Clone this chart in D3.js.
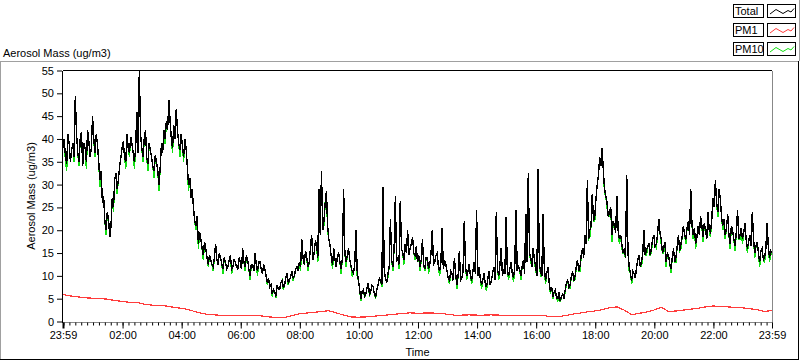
<!DOCTYPE html>
<html>
<head>
<meta charset="utf-8">
<script src="https://cdn.jsdelivr.net/npm/d3@7"></script>
<style>
  html, body { margin: 0; padding: 0; background: #fff; }
  svg { display: block; font-family: "Liberation Sans", Arial, sans-serif; }
</style>
</head>
<body>
<svg id="chart" width="800" height="361"></svg>
<script>
// ---------------- DATA ----------------
const seriesNames = ["Total", "PM1", "PM10"];
const seriesColors = ["#000000", "#ff3c3c", "#12e012"];
const yTicks = [0, 5, 10, 15, 20, 25, 30, 35, 40, 45, 50, 55];
const xTickLabels = ["23:59", "02:00", "04:00", "06:00", "08:00", "10:00", "12:00",
                     "14:00", "16:00", "18:00", "20:00", "22:00", "23:59"];
const yTitle = "Aerosol Mass (ug/m3)";
const xTitle = "Time";
const chartTitle = "Aerosol Mass (ug/m3)";

// Total: one sample every 2.5 minutes from 23:59 (24 per row = 1 hour)
const total = [
  38,40,36,34.5,41,39,35,37.5,39,36,49.5,41,37,35,40,41.5,34,39,38,35,42,39.5,36,38,
  45,40,37,41,39,35,31,33,26,27.5,22,20,24,22.5,18.5,21,27,25,31,32.5,29,31,34,36,
  38,39.5,36,35,41,38,37,40.5,39,37,35,38,46,37,55,41,38,36,40,42,36,34.5,39,37.5,
  36,34,33,36.5,35,33,30,34,39,37,42,40,44,42,48.5,44,40,38,43,40,46.5,42,39,37.5,
  41,38.5,36,40,38,34,30,31.5,27,29,25,22,21,23,17,19.5,18,16,14.5,17.5,16,14,12.5,14.5,
  13.5,12.5,12,14,17,13.5,12.5,15,14,12.5,11.5,14,13,11.5,12,13.5,14.5,11.5,12,13.5,13,12,11.5,14,
  13,11.5,16,13,12,14.5,13.5,11.5,10,12.5,12.5,11,15,12.5,11,13,13,11.5,10.5,12.5,11.5,10,8.5,9.5,
  7.5,8,6,7,6.5,5.5,8,7,7,8.5,9,7.5,8,9.5,10.5,8.5,9,10,11,9.5,10,11.5,12,11,
  13,12,18,14,12.5,15.5,14,12,13,16,19,13.5,15,17.5,17,14,29,19,33,20,22,26,28.5,21,
  18,16.5,14,12.5,16,13.5,12,14.5,15,13,11.5,14,29,15,13,14.5,16,13.5,12,11,10.5,12.5,20,11,
  9,7,5,6.5,7,5.5,6,7.5,8.5,6,6.5,8,7.5,6,5.5,7,8,9.5,9,8,29.5,11,9.5,8.5,
  10.5,12,22.5,13.5,12,16,27.5,13,14,12.5,26.5,16,15,13.5,17,15,20,14.5,16,17,18.5,15,14.5,16.5,
  13,14.5,12,13.5,18,12.5,11.5,14,14,11.5,12.5,15,20,12.5,13,14.5,15,12,11,13,20.5,11.5,13.5,12.5,
  11,9.5,9,11,10.5,9,14,10.5,8,10,15.5,9,9.5,11,22,12,10,11,12.5,10,9,11,13,10.5,
  24.5,10,12,9.5,8,9,10.5,8.5,7.5,9,11,8,9,10.5,12,9,24,11.5,10,12.5,16,10,11.5,10.5,
  23,11,10,11.5,13,10.5,9.5,12,24.5,11,12,11.5,10,12,13.5,10.5,23.5,13,32.5,15,14,12,16,13.5,
  12,10,33.5,12.5,11,10,23.5,12,9,10.5,12,8.5,6.5,7.5,5.5,6.5,7,5,5,6.5,4.5,5.5,6,5,
  7,8.5,9,7.5,8,10,11,9,10,12,13.5,11,12,14.5,16,14,19,17,31,18,20,21,28,22,
  23,27,30,32,36,34,38,33,29,27.5,26,23,24,25,19,22,21,19.5,27.5,20,18,19,17,15,
  16,14,32,15,12,10.5,9,11,10.5,9.5,12,13.5,14.5,12,13,15,20,14.5,15.5,16.5,17,14.5,16,18,
  19,16.5,17,19,22.5,19.5,18,15,16,17.5,13,15,14.5,12.5,11.5,14,16,13,14,16.5,19,15.5,17,18.5,
  21,19,18,20.5,22,19,29,21,19,20.5,17,18.5,21,19,23,21,18.5,21.5,20,18,24,20,19.5,22,
  27,25,31,26,24,29,27,23,21,22.5,19,20.5,23.5,19,17,21,20,18,16.5,19.5,24.5,18,19,20.5,
  18,19.5,21.5,18,16,17.5,19,16.5,24,18,15,16.5,17.5,15,13,15.5,16,13.5,14,16,21.5,16.5,14,15.5,15
];

// PM10: one sample every 2.5 minutes from 23:59
const pm10 = [
  38,40,35,33,41,39,35,37.5,39,35,49.5,41,37,34,40,41.5,34,39,38,33.5,42,39.5,36,38,
  45,40,36,41,39,35,29.5,33,26,27.5,22,19,24,22.5,18.5,21,27,24,31,32.5,28,31,34,36,
  38,39.5,36,33.5,41,38,36,40.5,39,37,33.5,38,46,37,55,41,38,35,40,42,36,33,39,37.5,
  36,34,31.5,36.5,35,33,28.5,34,39,37,42,39,44,42,48.5,44,40,37,43,40,46.5,42,39,36,
  41,38.5,35,40,38,34,28.5,31.5,27,29,25,22,20,23,16,19.5,18,16,13.5,17.5,16,14,12,14.5,
  13.5,12.5,11,14,17,13.5,12.5,15,14,12.5,10.5,14,13,11.5,12,13.5,14.5,10.5,12,13.5,13,12,11.5,14,
  13,11.5,16,13,11,14.5,13.5,11.5,9,12.5,12.5,11,15,12.5,10,13,13,11.5,10.5,12.5,11.5,10,8,9.5,
  7.5,8,5.5,7,6.5,5.2,8,7,7,8.5,9,7,8,9.5,10.5,8,9,10,11,9,10,11.5,12,11,
  13,11,18,14,12.5,15.5,14,11,13,16,19,13.5,15,17.5,17,13,29,19,33,20,21,26,28.5,20,
  18,16.5,14,11.5,16,13.5,12,14.5,15,13,10.5,14,29,15,12,14.5,16,13.5,12,10,10.5,12.5,20,10,
  9,7,4.6,6.5,7,5.2,6,7.5,8.5,5.5,6.5,8,7.5,6,5,7,8,9.5,9,7.5,29.5,11,9.5,8.5,
  9.8,12,22.5,13.5,11,16,27.5,13,14,11.5,26.5,16,15,12.5,17,15,20,14.5,16,17,18.5,15,13.5,16.5,
  13,14.5,11,13.5,18,12.5,11,14,14,10.5,12.5,15,20,12.5,13,14.5,15,12,10,13,20.5,11.5,13.5,12.5,
  11,9.5,8.2,11,10.5,9,14,10.5,7.2,10,15.5,9,9.5,11,22,12,9.2,11,12.5,10,8.2,11,13,10.5,
  24.5,10,12,9.5,7.2,9,10.5,8.5,6.7,9,11,8,9,10.5,12,9,24,11.5,9.2,12.5,16,10,11.5,10.5,
  23,11,9.2,11.5,13,10.5,8.6,12,24.5,11,12,11.5,9.2,12,13.5,10.5,23.5,13,32.5,15,13,12,16,13.5,
  11,10,33.5,12.5,10,10,23.5,12,8.2,10.5,12,8.5,6,7.5,5,6.5,7,5,4.5,6.5,4.2,5.5,6,5,
  6.4,8.5,9,7.5,7.3,10,11,9,9.2,12,13.5,11,11,14.5,16,14,19,17,31,18,18.5,21,28,22,
  22,27,30,32,36,34,38,33,28,27.5,25,23,23,25,17.5,22,21,19.5,27.5,20,17,19,16,15,
  15,14,32,15,11,10.5,8.2,11,10.5,9.5,12,13.5,14.5,12,12,15,20,14.5,14.5,16.5,17,14.5,15,18,
  19,16.5,16,19,22.5,19.5,17,15,15,17.5,12,15,14.5,12.5,10.7,14,16,13,13,16.5,19,15.5,16,18.5,
  21,19,17,20.5,22,19,29,21,18,20.5,16,18.5,21,19,23,21,17.5,21.5,20,18,24,20,18.5,22,
  27,25,31,26,23,29,27,23,20,22.5,18,20.5,23.5,19,16,21,20,18,15.5,19.5,24.5,18,18,20.5,
  17,19.5,21.5,18,15,17.5,19,16.5,24,18,14,16.5,17.5,15,12,15.5,16,13.5,13,16,21.5,16.5,13,15.5,14.5
];

// PM1: one sample every 15 minutes from 23:59
const pm1 = [
  5.9,5.6,5.4,5.2,5.1,5.0,4.9,4.6,4.4,4.2,4.2,3.8,
  3.6,3.5,3.4,3.1,2.9,2.6,2.1,1.7,1.5,1.4,1.35,1.3,
  1.35,1.4,1.4,1.2,1.0,0.85,0.9,1.3,1.7,1.85,2.0,2.2,
  2.35,1.9,1.4,1.0,0.95,1.0,1.15,1.3,1.45,1.6,1.75,1.9,
  1.8,1.85,1.85,1.8,1.6,1.4,1.4,1.45,1.4,1.4,1.45,1.4,
  1.35,1.4,1.4,1.35,1.3,1.3,1.1,1.05,1.3,1.6,1.85,2.1,
  2.3,2.6,3.0,3.2,2.5,1.5,1.8,2.05,2.5,3.1,2.2,2.3,
  2.5,2.7,2.9,3.2,3.4,3.3,3.2,3.1,3.0,2.8,2.6,2.2,
  2.4
];

// ---------------- CHART ----------------
const svg = d3.select("#chart");
const W = 800, H = 361;
const plot = { left: 63, right: 772, top: 70.5, bottom: 321.5 };
const FONT = "11px";

svg.append("rect").attr("width", W).attr("height", H).attr("fill", "#fff");

const t0 = new Date(2000, 0, 1, 23, 59);
const t1 = new Date(2000, 0, 2, 23, 59);
const x = d3.scaleTime().domain([t0, t1]).range([plot.left, plot.right]);
const y = d3.scaleLinear().domain([0, 55]).range([plot.bottom, plot.top]);

const timeAt = (i, stepSec) => d3.timeSecond.offset(t0, i * stepSec);

// outer panel frame
const frame = svg.append("g").attr("shape-rendering", "crispEdges");
frame.append("line").attr("x1", 0).attr("x2", 799).attr("y1", 61.5).attr("y2", 61.5).attr("stroke", "#a0a0a0");
frame.append("line").attr("x1", 0.5).attr("x2", 0.5).attr("y1", 61).attr("y2", 360).attr("stroke", "#a0a0a0");
frame.append("line").attr("x1", 0).attr("x2", 799).attr("y1", 359.5).attr("y2", 359.5).attr("stroke", "#000");
frame.append("line").attr("x1", 798.5).attr("x2", 798.5).attr("y1", 61).attr("y2", 360).attr("stroke", "#000");
frame.append("line").attr("x1", 799.5).attr("x2", 799.5).attr("y1", 0).attr("y2", 61).attr("stroke", "#a0a0a0");

// chart title
svg.append("text").attr("x", 3).attr("y", 56.5).attr("font-size", FONT).attr("fill", "#000").text(chartTitle);

// clip
svg.append("defs").append("clipPath").attr("id", "clip")
  .append("rect").attr("x", plot.left).attr("y", plot.top - 1)
  .attr("width", plot.right - plot.left).attr("height", plot.bottom - plot.top + 1);

const line = (stepSec) => d3.line()
  .x((d, i) => x(timeAt(i, stepSec)))
  .y(d => y(d));

const lines = svg.append("g").attr("clip-path", "url(#clip)");
lines.append("path").datum(pm10).attr("d", line(150))
  .attr("fill", "none").attr("stroke", seriesColors[2]).attr("stroke-width", 1.4)
  .attr("shape-rendering", "crispEdges");
lines.append("path").datum(pm1).attr("d", line(900))
  .attr("fill", "none").attr("stroke", seriesColors[1]).attr("stroke-width", 1.2)
  .attr("shape-rendering", "crispEdges");
lines.append("path").datum(total).attr("d", line(150))
  .attr("fill", "none").attr("stroke", seriesColors[0]).attr("stroke-width", 1.4)
  .attr("shape-rendering", "crispEdges");

// plot frame
const pf = svg.append("g").attr("shape-rendering", "crispEdges");
pf.append("line").attr("x1", plot.left).attr("x2", plot.right).attr("y1", plot.top).attr("y2", plot.top).attr("stroke", "#000");
pf.append("line").attr("x1", plot.left - 0.5).attr("x2", plot.left - 0.5).attr("y1", plot.top).attr("y2", plot.bottom + 1).attr("stroke", "#000");
pf.append("line").attr("x1", plot.right + 0.5).attr("x2", plot.right + 0.5).attr("y1", plot.top).attr("y2", plot.bottom + 1).attr("stroke", "#888");
pf.append("line").attr("x1", plot.left).attr("x2", plot.right + 1).attr("y1", plot.bottom + 0.5).attr("y2", plot.bottom + 0.5).attr("stroke", "#888");

// y axis
const yAxis = svg.append("g").attr("transform", `translate(${plot.left - 1},0)`)
  .call(d3.axisLeft(y).tickValues(yTicks).tickSize(5).tickPadding(3).tickFormat(d3.format("d")));
yAxis.select(".domain").remove();
yAxis.selectAll("text").attr("font-size", FONT).attr("font-family", "Liberation Sans, Arial, sans-serif").attr("fill", "#000");
yAxis.selectAll("line").attr("stroke", "#000");

// x axis: major ticks
const majorTimes = xTickLabels.map((lab, i) => {
  if (i === 0) return t0;
  if (i === xTickLabels.length - 1) return t1;
  const [hh, mm] = lab.split(":").map(Number);
  return new Date(2000, 0, 2, hh, mm);
});
const xMajor = svg.append("g").attr("transform", `translate(0,${plot.bottom + 1})`)
  .call(d3.axisBottom(x).tickValues(majorTimes).tickSize(6).tickPadding(3)
    .tickFormat((d, i) => xTickLabels[i]));
xMajor.select(".domain").remove();
xMajor.selectAll("text").attr("font-size", FONT).attr("font-family", "Liberation Sans, Arial, sans-serif").attr("fill", "#000");
xMajor.selectAll("line").attr("stroke", "#000");
xMajor.selectAll(".tick").filter((d, i) => i === 0).select("line").attr("stroke-width", 2);

// x axis: minor ticks
const xMinor = svg.append("g").attr("transform", `translate(0,${plot.bottom + 1})`)
  .call(d3.axisBottom(x).ticks(d3.timeMinute.every(12)).tickSize(3).tickFormat(""));
xMinor.select(".domain").remove();
xMinor.selectAll("line").attr("stroke", "#000");

// axis titles
svg.append("text").attr("x", (plot.left + plot.right) / 2).attr("y", 355.5)
  .attr("text-anchor", "middle").attr("font-size", FONT).attr("fill", "#000").text(xTitle);
svg.append("text").attr("transform", `translate(35,${(plot.top + plot.bottom) / 2}) rotate(-90)`)
  .attr("text-anchor", "middle").attr("font-size", FONT).attr("fill", "#000").text(yTitle);

// legend
const legendOrder = [0, 1, 2];
const legend = svg.append("g");
const rowTops = [4, 23, 42];
legendOrder.forEach((s, r) => {
  const g = legend.append("g").attr("transform", `translate(0,${rowTops[r]})`);
  g.append("rect").attr("x", 733.5).attr("y", 0.5).attr("width", 30).attr("height", 13)
    .attr("fill", "#fff").attr("stroke", "#000").attr("shape-rendering", "crispEdges");
  g.append("text").attr("x", 735).attr("y", 11).attr("font-size", FONT).attr("fill", "#000").text(seriesNames[s]);
  g.append("rect").attr("x", 767.5).attr("y", 0.5).attr("width", 28).attr("height", 13)
    .attr("fill", "#fff").attr("stroke", "#000").attr("shape-rendering", "crispEdges");
  const sample = [[770, 10], [776, 5.5], [783, 9.5], [788, 6.5], [791, 8], [794, 4.5]];
  g.append("path").attr("d", d3.line()(sample)).attr("fill", "none")
    .attr("stroke", seriesColors[s]).attr("stroke-width", 1);
});
</script>
</body>
</html>
